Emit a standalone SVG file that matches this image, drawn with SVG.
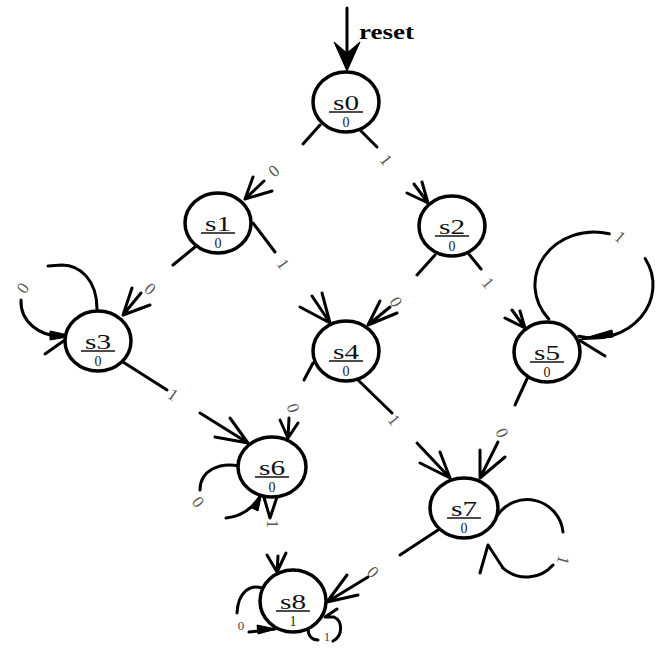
<svg xmlns="http://www.w3.org/2000/svg" width="662" height="655" viewBox="0 0 662 655">
<style>
  .st ellipse { fill: #fff; stroke: #000; stroke-width: 3.5; }
  .st .nm { font-family: "Liberation Serif", "Times New Roman", serif; font-size: 22px; text-anchor: middle; fill: #111; }
  .st .out { font-family: "Liberation Serif", "Times New Roman", serif; font-size: 14px; text-anchor: middle; fill: #222; }
  .st line { stroke: #111; stroke-width: 1.5; }
  .edge { fill: none; stroke: #000; stroke-width: 3; stroke-linecap: round; stroke-linejoin: round; }
  .head { fill: #000; stroke: #000; stroke-width: 1; stroke-linejoin: round; }
  .lbl { font-family: "Liberation Serif", "Times New Roman", serif; font-size: 17px; fill: #555; text-anchor: middle; dominant-baseline: central; }
  .lbls { font-family: "Liberation Serif", "Times New Roman", serif; font-size: 13px; fill: #444; text-anchor: middle; dominant-baseline: central; }
  .rst { font-family: "Liberation Serif", "Times New Roman", serif; font-size: 20px; font-weight: bold; fill: #000; }
</style>

<!-- transitions: source stubs, arrowheads at targets, self-loops -->
<g id="connectors">
  <!-- reset -->
  <line class="edge" x1="347" y1="8" x2="347" y2="54"/>
  <polygon class="head" points="347,71 334,42 347,53 360,42"/>

  <!-- stubs leaving states -->
  <path class="edge" d="M320,125 L303,144 M360,130 L377,147"/>
  <path class="edge" d="M195,247 L173,265 M253,223 L275,252"/>
  <path class="edge" d="M435,255 L417,275 M468,253 L481,269"/>
  <path class="edge" d="M123,362 L167,390"/>
  <path class="edge" d="M313,363 L304,380 M358,380 L392,413"/>
  <path class="edge" d="M532,368 L515,405"/>
  <path class="edge" d="M263,494 L270,518 L277,497"/>
  <path class="edge" d="M438,530 L400,555"/>

  <!-- arrowheads entering states -->
  <path class="edge" d="M264,181 L245,199 M253,177 L245,199 L272,191"/>
  <path class="edge" d="M414,184 L428,203 M407,193 L428,203 L422,182"/>
  <path class="edge" d="M141,293 L123,315 M132,288 L123,315 L150,305"/>
  <path class="edge" d="M312,296 L330,323 M300,307 L330,323 L322,293"/>
  <path class="edge" d="M390,307 L368,325 M380,301 L368,325 L397,313"/>
  <path class="edge" d="M512,310 L525,328 M505,318 L525,328 L520,311"/>
  <path class="edge" d="M200,413 L248,443 M230,418 L248,443 L215,437"/>
  <path class="edge" d="M289,418 L288,438 M280,420 L288,438 L298,423"/>
  <path class="edge" d="M417,443 L450,478 M440,452 L450,478 L420,463"/>
  <path class="edge" d="M498,442 L480,478 M480,450 L480,478 L505,457"/>
  <path class="edge" d="M278,556 L277,572 M267,555 L277,572 L286,553"/>
  <path class="edge" d="M368,577 L327,602 M347,575 L327,602 L358,595"/>

  <!-- s3 loop -->
  <path class="edge" d="M97,309 C97,280 80,265 62,265 L48,266"/>
  <path class="edge" d="M21,300 C20,322 40,336 60,336 L72,336"/>
  <polygon class="head" points="73,336 50,331 50,340"/>
  <path class="edge" d="M72,335 L45,354"/>

  <!-- s5 loop -->
  <path class="edge" d="M548.8,319.1 A59,53 0 0 1 609.3,233.8"/>
  <path class="edge" d="M645.1,258.5 A59,53 0 0 1 578.7,336.2"/>
  <polygon class="head" points="578,340 612,330 613,337"/>
  <path class="edge" d="M579,340 L605,356"/>

  <!-- s6 loop -->
  <path class="edge" d="M239,466 C220,462 200,470 200,490"/>
  <path class="edge" d="M226,518 C245,516 255,506 262,493"/>
  <polygon class="head" points="262,492 252,508 258,511"/>

  <!-- s7 loop -->
  <path class="edge" d="M497,516 A36,36 0 0 1 563,532"/>
  <path class="edge" d="M553,565 A35,35 0 0 1 503,568"/>
  <path class="edge" d="M480,573 L488,545 L503,568"/>

  <!-- s8 loops -->
  <path class="edge" d="M262,588 C250,584 238,592 237,613"/>
  <path class="edge" d="M249,632 L275,629"/>
  <polygon class="head" points="276,629 257,625 258,634"/>
  <path class="edge" d="M308,628 C308,636 312,640 318,640"/>
  <path class="edge" d="M333,641 C343,636 343,621 334,617 L325,617 M325,617 L337,609"/>

  <!-- transition labels -->
  <text class="lbl" transform="translate(274,171) rotate(-40)">0</text>
  <text class="lbl" transform="translate(386,160) rotate(52)">1</text>
  <text class="lbl" transform="translate(150,289) rotate(40)">0</text>
  <text class="lbl" transform="translate(283,264) rotate(55)">1</text>
  <text class="lbl" transform="translate(396,302) rotate(60)">0</text>
  <text class="lbl" transform="translate(488,283) rotate(50)">1</text>
  <text class="lbl" transform="translate(620,237) rotate(40)">1</text>
  <text class="lbl" transform="translate(23,288) rotate(-55)">0</text>
  <text class="lbl" transform="translate(173,395) rotate(35)">1</text>
  <text class="lbl" transform="translate(293,408) rotate(72)">0</text>
  <text class="lbl" transform="translate(394,420) rotate(50)">1</text>
  <text class="lbl" transform="translate(502,433) rotate(68)">0</text>
  <text class="lbl" transform="translate(198,502) rotate(53)">0</text>
  <text class="lbl" transform="translate(272,524) rotate(90)">1</text>
  <text class="lbl" transform="translate(373,572) rotate(45)">0</text>
  <text class="lbl" transform="translate(563,560) rotate(106)">1</text>
  <text class="lbls" transform="translate(241,625)">0</text>
  <text class="lbls" transform="translate(327,636)">1</text>

  <text class="rst" x="359" y="39" textLength="55" lengthAdjust="spacingAndGlyphs">reset</text>
</g>

<!-- states: name over output -->
<g id="s0" class="st" transform="translate(346,102)"><ellipse rx="33" ry="30"/><text class="nm" y="8" textLength="26" lengthAdjust="spacingAndGlyphs">s0</text><line x1="-17" y1="10" x2="17" y2="10"/><text class="out" y="25">0</text></g>
<g id="s1" class="st" transform="translate(218,223)"><ellipse rx="33" ry="30"/><text class="nm" y="8" textLength="26" lengthAdjust="spacingAndGlyphs">s1</text><line x1="-17" y1="10" x2="17" y2="10"/><text class="out" y="25">0</text></g>
<g id="s2" class="st" transform="translate(452,226)"><ellipse rx="33" ry="30"/><text class="nm" y="8" textLength="26" lengthAdjust="spacingAndGlyphs">s2</text><line x1="-17" y1="10" x2="17" y2="10"/><text class="out" y="25">0</text></g>
<g id="s3" class="st" transform="translate(98,341)"><ellipse rx="33" ry="30"/><text class="nm" y="8" textLength="26" lengthAdjust="spacingAndGlyphs">s3</text><line x1="-17" y1="10" x2="17" y2="10"/><text class="out" y="25">0</text></g>
<g id="s4" class="st" transform="translate(346,351)"><ellipse rx="33" ry="30"/><text class="nm" y="8" textLength="26" lengthAdjust="spacingAndGlyphs">s4</text><line x1="-17" y1="10" x2="17" y2="10"/><text class="out" y="25">0</text></g>
<g id="s5" class="st" transform="translate(547,352)"><ellipse rx="33" ry="30"/><text class="nm" y="8" textLength="26" lengthAdjust="spacingAndGlyphs">s5</text><line x1="-17" y1="10" x2="17" y2="10"/><text class="out" y="25">0</text></g>
<g id="s6" class="st" transform="translate(272,467)"><ellipse rx="34" ry="30"/><text class="nm" y="8" textLength="26" lengthAdjust="spacingAndGlyphs">s6</text><line x1="-17" y1="10" x2="17" y2="10"/><text class="out" y="25">0</text></g>
<g id="s7" class="st" transform="translate(464,508)"><ellipse rx="34" ry="30"/><text class="nm" y="8" textLength="26" lengthAdjust="spacingAndGlyphs">s7</text><line x1="-17" y1="10" x2="17" y2="10"/><text class="out" y="25">0</text></g>
<g id="s8" class="st" transform="translate(293,601)"><ellipse rx="33" ry="31"/><text class="nm" y="8" textLength="26" lengthAdjust="spacingAndGlyphs">s8</text><line x1="-17" y1="10" x2="17" y2="10"/><text class="out" y="25">1</text></g>
</svg>
